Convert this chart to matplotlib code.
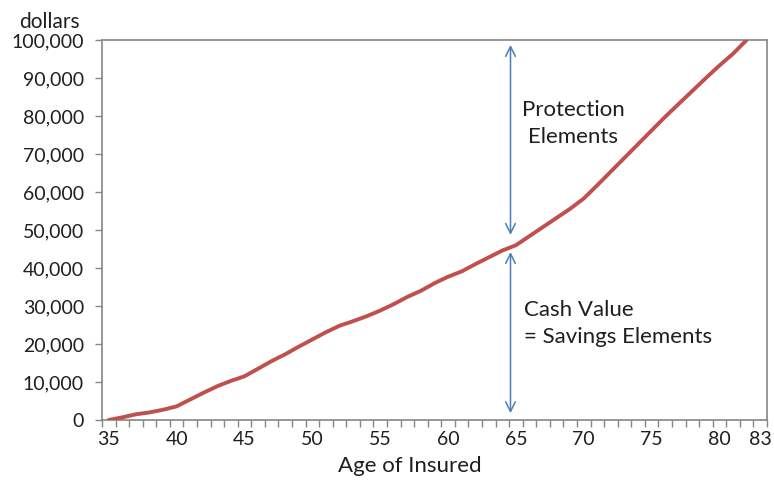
import matplotlib
matplotlib.use("Agg")
import matplotlib.pyplot as plt
from matplotlib.ticker import FuncFormatter, MultipleLocator

plt.rcParams['font.family'] = ['Lato', 'DejaVu Sans']

# Cash value of the policy by age of insured
ages = list(range(35, 83))
cash_value = [0, 700, 1500, 2000, 2700, 3600, 5400, 7200, 8900, 10300,
              11500, 13500, 15500, 17300, 19300, 21200, 23100, 24800, 26000, 27300,
              28800, 30500, 32400, 34000, 36000, 37700, 39100, 41000, 42800, 44600,
              46000, 48400, 50800, 53200, 55600, 58300, 61800, 65400, 69000, 72600,
              76200, 79800, 83200, 86600, 90000, 93300, 96400, 100000]

x_tick_labels = [35, 40, 45, 50, 55, 60, 65, 70, 75, 80, 83]
y_ticks = list(range(0, 100001, 10000))

# Face amount split at age 65
split_age = 64.6
protection_span = (98700, 48700)
savings_span = (44200, 1800)

line_color = "#C0504D"
arrow_color = "#4A7EBB"
axis_color = "#868686"
text_color = "#1F1F1F"

fig = plt.figure(figsize=(7.74, 4.8), dpi=100)
ax = fig.add_axes([102 / 774, 1 - 420 / 480, 665 / 774, 380 / 480])

ax.plot(ages, cash_value, color=line_color, lw=2.8, solid_capstyle="round",
        solid_joinstyle="round", zorder=3)

ax.set_xlim(34.5, 83.5)
ax.set_ylim(0, 100000)

ax.set_xticks(x_tick_labels)
ax.set_xticklabels([str(v) for v in x_tick_labels])
ax.xaxis.set_minor_locator(MultipleLocator(1, offset=0.5))
ax.tick_params(axis="x", which="major", length=0, pad=8, labelsize=14,
               labelcolor=text_color)
ax.tick_params(axis="x", which="minor", length=5, width=1, color=axis_color,
               direction="out")

ax.set_yticks(y_ticks)
ax.yaxis.set_major_formatter(FuncFormatter(lambda v, p: f"{int(v):,}"))
ax.tick_params(axis="y", length=5, width=1, color=axis_color, direction="out",
               pad=8, labelsize=14, labelcolor=text_color)

for side in ["left", "bottom", "top", "right"]:
    ax.spines[side].set_color(axis_color)
    ax.spines[side].set_linewidth(1.2)

# Double-headed arrows marking the two components
for top, bottom in (protection_span, savings_span):
    ax.annotate("", xy=(split_age, top), xytext=(split_age, bottom),
                arrowprops=dict(arrowstyle="<->,head_length=0.7,head_width=0.35",
                                color=arrow_color, lw=1.1,
                                shrinkA=0, shrinkB=0))

ax.text(69.2, 78000, "Protection\nElements", ha="center", va="center",
        fontsize=16, color=text_color, linespacing=1.45)
ax.text(65.6, 25400, "Cash Value\n= Savings Elements", ha="left", va="center",
        fontsize=16, color=text_color, linespacing=1.45)

fig.text(49 / 774, 1 - 22 / 480, "dollars", ha="center", va="center",
         fontsize=15, color=text_color)
fig.text(410 / 774, 1 - 466 / 480, "Age of Insured", ha="center", va="center",
         fontsize=16, color=text_color)

fig.savefig("out.png", dpi=100)
